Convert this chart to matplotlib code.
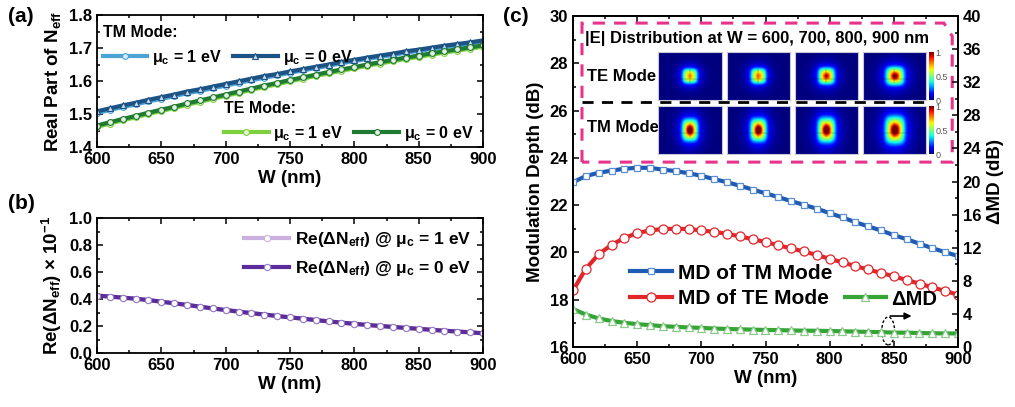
"""Effective index, index contrast and modulation depth versus waveguide width."""

import matplotlib

matplotlib.use("Agg")
import matplotlib.pyplot as plt  # noqa: E402
import numpy as np  # noqa: E402
from matplotlib.patches import Ellipse, Polygon  # noqa: E402

plt.rcParams["font.family"] = ["Liberation Sans", "DejaVu Sans"]
plt.rcParams["font.weight"] = "bold"
plt.rcParams["axes.labelweight"] = "bold"
plt.rcParams["mathtext.fontset"] = "custom"
plt.rcParams["mathtext.rm"] = "Liberation Sans:bold"
plt.rcParams["mathtext.bf"] = "Liberation Sans:bold"
plt.rcParams["mathtext.it"] = "Liberation Sans:bold"
plt.rcParams["mathtext.default"] = "bf"

W = list(range(600, 901, 10))

# Real part of N_eff
tm_mu1 = [1.503, 1.512, 1.521, 1.529, 1.538, 1.546, 1.554, 1.563, 1.570, 1.578,
          1.586, 1.594, 1.602, 1.610, 1.617, 1.625, 1.632, 1.639, 1.646, 1.654,
          1.660, 1.667, 1.673, 1.679, 1.686, 1.691, 1.697, 1.703, 1.708, 1.714, 1.719]
tm_mu0 = [1.508, 1.517, 1.526, 1.534, 1.543, 1.551, 1.559, 1.568, 1.575, 1.583,
          1.591, 1.599, 1.607, 1.615, 1.621, 1.629, 1.636, 1.643, 1.650, 1.658,
          1.664, 1.671, 1.677, 1.683, 1.690, 1.695, 1.701, 1.707, 1.712, 1.717, 1.723]
te_mu1 = [1.461, 1.471, 1.481, 1.490, 1.500, 1.509, 1.518, 1.528, 1.537, 1.546,
          1.555, 1.564, 1.573, 1.582, 1.590, 1.599, 1.607, 1.615, 1.623, 1.631,
          1.638, 1.646, 1.653, 1.660, 1.667, 1.673, 1.680, 1.686, 1.692, 1.698, 1.704]
te_mu0 = [1.465, 1.475, 1.485, 1.494, 1.504, 1.513, 1.522, 1.532, 1.541, 1.550,
          1.559, 1.568, 1.577, 1.586, 1.594, 1.603, 1.611, 1.619, 1.627, 1.635,
          1.642, 1.650, 1.657, 1.664, 1.671, 1.677, 1.684, 1.690, 1.696, 1.702, 1.708]

# Re(dN_eff) x 1e-1
dn_mu1 = [0.425, 0.418, 0.410, 0.402, 0.392, 0.380, 0.368, 0.356, 0.343, 0.330,
          0.318, 0.307, 0.295, 0.285, 0.274, 0.264, 0.254, 0.244, 0.234, 0.225,
          0.216, 0.208, 0.200, 0.193, 0.186, 0.179, 0.172, 0.165, 0.159, 0.153, 0.146]
dn_mu0 = [0.425, 0.418, 0.410, 0.402, 0.392, 0.380, 0.368, 0.356, 0.343, 0.330,
          0.318, 0.307, 0.295, 0.285, 0.274, 0.264, 0.254, 0.244, 0.234, 0.225,
          0.216, 0.208, 0.200, 0.193, 0.186, 0.179, 0.172, 0.165, 0.159, 0.153, 0.146]

# Modulation depth (dB)
md_tm = [22.97, 23.23, 23.37, 23.46, 23.54, 23.58, 23.58, 23.50, 23.44, 23.35,
         23.24, 23.10, 22.97, 22.82, 22.66, 22.50, 22.34, 22.17, 22.01, 21.85,
         21.66, 21.48, 21.28, 21.10, 20.93, 20.73, 20.56, 20.37, 20.18, 20.01, 19.85]
md_te = [18.39, 19.31, 19.92, 20.32, 20.61, 20.82, 20.93, 20.99, 21.00, 20.99,
         20.93, 20.87, 20.79, 20.68, 20.56, 20.44, 20.30, 20.17, 20.04, 19.89,
         19.73, 19.58, 19.42, 19.28, 19.13, 18.99, 18.83, 18.68, 18.52, 18.37, 18.21]
delta_md = [4.58, 3.92, 3.45, 3.14, 2.93, 2.76, 2.65, 2.51, 2.44, 2.36,
            2.31, 2.23, 2.18, 2.14, 2.10, 2.06, 2.04, 2.00, 1.97, 1.96,
            1.93, 1.90, 1.86, 1.82, 1.80, 1.74, 1.73, 1.69, 1.66, 1.64, 1.64]

# |E| snapshots at W = 600, 700, 800, 900 nm: core half-size and peak strength
te_core = [0.23, 0.24, 0.26, 0.29]
te_peak = [0.12, 0.16, 0.32, 0.42]
tm_core = [0.25, 0.26, 0.28, 0.31]
tm_peak = [0.55, 0.55, 0.55, 0.55]

FIG_W, FIG_H = 1015, 407


def px_axes(fig, x0, y0, x1, y1):
    """Axes from pixel box (top-left origin)."""
    return fig.add_axes([x0 / FIG_W, 1 - y1 / FIG_H, (x1 - x0) / FIG_W, (y1 - y0) / FIG_H])


def style_axes(ax, right=True):
    for s in ax.spines.values():
        s.set_linewidth(1.3)
    ax.tick_params(which="both", direction="in", top=True, right=right, labelsize=12,
                   width=1.1)
    ax.tick_params(which="major", length=4.5)
    ax.tick_params(which="minor", length=2.5)


def mode_field(core, peak, tall):
    x = np.linspace(-1, 1, 96)
    y = np.linspace(-0.75, 0.75, 72)
    X, Y = np.meshgrid(x, y)
    box = np.exp(-((X / core) ** 4 + (Y / (core * tall)) ** 4))
    halo = np.exp(-((X / (core * 1.5)) ** 2 + (Y / (core * tall * 1.5)) ** 2))
    spot = np.exp(-((X / (core * 0.45)) ** 2 + (Y / (core * 0.45 * tall)) ** 2))
    return np.clip(0.42 * box + 0.22 * halo + peak * spot, 0, 1)


fig = plt.figure(figsize=(FIG_W / 100, FIG_H / 100), dpi=100)

# ---------------- (a) ----------------
ax_a = px_axes(fig, 97, 15, 483, 147)
mk = dict(markersize=4.2, markeredgewidth=0.8, lw=3)
l_tm1, = ax_a.plot(W, tm_mu1, color="#4ba3d6", marker="o", mfc="#d8ecf7", mec="#4ba3d6", **mk)
l_tm0, = ax_a.plot(W, tm_mu0, color="#1d5384", marker="^", mfc="#c9dcee", mec="#1d5384", **mk)
l_te1, = ax_a.plot(W, te_mu1, color="#7cd13c", marker="o", mfc="#eaf7dc", mec="#7cd13c", **mk)
l_te0, = ax_a.plot(W, te_mu0, color="#1f7a32", marker="o", mfc="#e3f1e1", mec="#1f7a32", **mk)
ax_a.set_xlim(600, 900)
ax_a.set_ylim(1.4, 1.8)
ax_a.set_xticks(range(600, 901, 50))
ax_a.set_yticks([1.4, 1.5, 1.6, 1.7, 1.8])
ax_a.set_xticks(range(600, 901, 25), minor=True)
ax_a.set_yticks(np.arange(1.4, 1.81, 0.05), minor=True)
ax_a.set_xlabel("W (nm)", fontsize=13.5, labelpad=2)
ax_a.set_ylabel("Real Part of N$_{eff}$", fontsize=13.5, labelpad=4)
style_axes(ax_a)
leg_kw = dict(frameon=False, fontsize=11.5, ncol=2, handlelength=2.8, handletextpad=0.3,
              columnspacing=0.7, alignment="left", borderaxespad=0.2,
              title_fontproperties={"weight": "bold", "size": 11.5})
leg1 = ax_a.legend([l_tm1, l_tm0], ["μ$_c$ = 1 eV", "μ$_c$ = 0 eV"], title="TM Mode:",
                   loc="upper left", bbox_to_anchor=(-0.01, 1.0), **leg_kw)
ax_a.add_artist(leg1)
ax_a.legend([l_te1, l_te0], ["μ$_c$ = 1 eV", "μ$_c$ = 0 eV"], title="TE Mode:",
            loc="lower right", bbox_to_anchor=(1.0, -0.04), **leg_kw)

# ---------------- (b) ----------------
ax_b = px_axes(fig, 97, 218, 483, 353)
l_d1, = ax_b.plot(W, dn_mu1, color="#cbb0df", marker="o", mfc="white", mec="#cbb0df",
                  markersize=4.5, markeredgewidth=0.8, lw=3)
l_d0, = ax_b.plot(W, dn_mu0, color="#5a2d9b", marker="o", mfc="white", mec="#9a7cc4",
                  markersize=4.5, markeredgewidth=0.8, lw=3)
ax_b.set_xlim(600, 900)
ax_b.set_ylim(0, 1.0)
ax_b.set_xticks(range(600, 901, 50))
ax_b.set_xticks(range(600, 901, 25), minor=True)
ax_b.set_yticks([0, 0.2, 0.4, 0.6, 0.8, 1.0])
ax_b.set_yticks(np.arange(0, 1.01, 0.1), minor=True)
ax_b.set_yticklabels(["0.0", "0.2", "0.4", "0.6", "0.8", "1.0"])
ax_b.set_xlabel("W (nm)", fontsize=13.5, labelpad=2)
ax_b.set_ylabel("Re(ΔN$_{eff}$) × 10$^{-1}$", fontsize=13.5, labelpad=4)
style_axes(ax_b)
ax_b.legend([l_d1, l_d0], ["Re(ΔN$_{eff}$) @ μ$_c$ = 1 eV", "Re(ΔN$_{eff}$) @ μ$_c$ = 0 eV"],
            loc="upper right", frameon=False, fontsize=12.5, handlelength=2.6,
            handletextpad=0.3, borderaxespad=0.3, labelspacing=0.55)

# ---------------- (c) ----------------
ax_c = px_axes(fig, 573, 16, 958, 347)
ax_r = ax_c.twinx()
l_mtm, = ax_c.plot(W, md_tm, color="#1f5bb5", marker="s", mfc="white", mec="#5b8fd0",
                   markersize=5, markeredgewidth=0.9, lw=3)
l_mte, = ax_c.plot(W, md_te, color="#e3262a", marker="o", mfc="white", mec="#e3262a",
                   markersize=6.5, markeredgewidth=0.9, lw=3)
l_dmd, = ax_r.plot(W, delta_md, color="#35a536", marker="^", mfc="white", mec="#8cc98c",
                   markersize=6, markeredgewidth=0.9, lw=3)
ax_c.set_xlim(600, 900)
ax_c.set_ylim(16, 30)
ax_r.set_ylim(0, 40)
ax_c.set_xticks(range(600, 901, 50))
ax_c.set_xticks(range(600, 901, 25), minor=True)
ax_c.set_yticks(range(16, 31, 2))
ax_c.set_yticks(range(16, 31, 1), minor=True)
ax_r.set_yticks(range(0, 41, 4))
ax_r.set_yticks(range(0, 41, 2), minor=True)
ax_c.set_xlabel("W (nm)", fontsize=13.5, labelpad=2)
ax_c.set_ylabel("Modulation Depth (dB)", fontsize=13.5, labelpad=4)
ax_r.set_ylabel("ΔMD (dB)", fontsize=13.5, labelpad=4)
style_axes(ax_c, right=False)
style_axes(ax_r, right=True)
ax_r.tick_params(which="both", left=False, top=False)

leg_c = ax_r.legend([l_mtm, l_mte], ["MD of TM Mode", "MD of TE Mode"], loc="center left",
                    bbox_to_anchor=(0.1, 0.185), frameon=False, fontsize=15,
                    handlelength=2.0, handletextpad=0.3, labelspacing=0.3)
ax_r.add_artist(leg_c)
ax_r.legend([l_dmd], ["ΔMD"], loc="center left", bbox_to_anchor=(0.66, 0.145),
            frameon=False, fontsize=14.5, handlelength=2.0, handletextpad=0.3)

# dashed ellipse and arrow marking the right-axis curve
ax_c.add_patch(Ellipse((845.6, 16.68), 10, 1.18, fill=False, ls=(0, (2, 1.5)), lw=1, color="k"))
ax_c.annotate("", xy=(866, 17.31), xytext=(845, 17.31),
              arrowprops=dict(arrowstyle="-|>", color="k", lw=1.2, mutation_scale=10))

# inset frame with field maps
ax_c.add_patch(Polygon([(607, 23.82), (607, 29.7), (889, 29.7), (895.5, 29.15), (895.5, 23.82)],
                       closed=True, fill=False, ec="#e8338c", lw=2.2, ls=(0, (4, 3)), zorder=5))
ax_c.plot([607, 876], [26.36, 26.36], color="k", lw=2, ls=(0, (4, 3)), zorder=5)
ax_c.text(609, 29.03, "|E| Distribution at W = 600, 700, 800, 900 nm", fontsize=12,
          va="center", ha="left", zorder=6)
ax_c.text(611, 27.42, "TE Mode", fontsize=12, va="center", ha="left", zorder=6)
ax_c.text(611, 25.30, "TM Mode", fontsize=12, va="center", ha="left", zorder=6)

img_x = [(658, 722), (727, 790), (795, 858), (863, 926)]
rows = [((52, 100), te_core, te_peak, 1.0), ((106, 154), tm_core, tm_peak, 1.4)]
for (y0, y1), cores, peaks, tall in rows:
    for (x0, x1), core, peak in zip(img_x, cores, peaks):
        ai = px_axes(fig, x0, y0, x1, y1)
        ai.imshow(mode_field(core, peak, tall), cmap="jet", vmin=0, vmax=1,
                  aspect="auto", interpolation="bilinear")
        ai.axhline(40, xmin=0.3, xmax=0.7, color="k", lw=0.3, alpha=0.5)
        ai.axvline(47, ymin=0.35, ymax=0.65, color="k", lw=0.3, alpha=0.5)
        ai.set_xticks([])
        ai.set_yticks([])
        for s in ai.spines.values():
            s.set_color("#c8c8d8")
            s.set_linewidth(0.8)
    cb = px_axes(fig, 929, y0, 934, y1)
    cb.imshow(np.linspace(1, 0, 64)[:, None], cmap="jet", aspect="auto",
              extent=(0, 1, 0, 1))
    cb.set_xticks([])
    cb.yaxis.tick_right()
    cb.set_yticks([0, 0.5, 1])
    cb.set_yticklabels(["0", "0.5", "1"])
    cb.tick_params(axis="y", length=0, pad=1, labelsize=6.5, labelcolor="#555555")
    for lab in cb.get_yticklabels():
        lab.set_fontweight("normal")
    for s in cb.spines.values():
        s.set_visible(False)

# panel letters
fig.text(8 / FIG_W, 1 - 17 / FIG_H, "(a)", fontsize=15, va="center", ha="left")
fig.text(8 / FIG_W, 1 - 203 / FIG_H, "(b)", fontsize=15, va="center", ha="left")
fig.text(503 / FIG_W, 1 - 17 / FIG_H, "(c)", fontsize=15, va="center", ha="left")

fig.savefig("out.png", dpi=100)
plt.close(fig)
